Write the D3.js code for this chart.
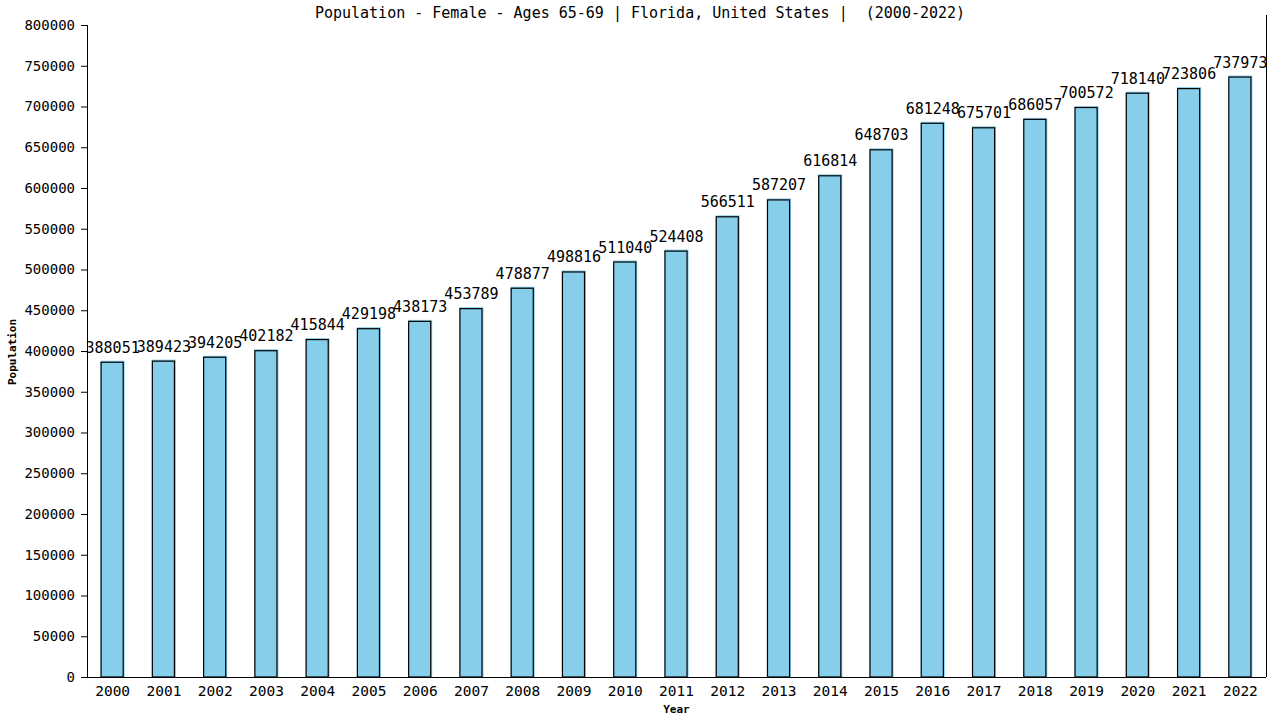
<!DOCTYPE html>
<html><head><meta charset="utf-8">
<script src="https://cdn.jsdelivr.net/npm/d3@7"></script>
<style>
body{margin:0;background:#fff;}
svg{display:block;}
text{font-family:"DejaVu Sans Mono",monospace;fill:#000;}
</style></head>
<body>
<svg id="chart" width="1280" height="720"></svg>
<script>
const years = ["2000","2001","2002","2003","2004","2005","2006","2007","2008","2009","2010","2011","2012","2013","2014","2015","2016","2017","2018","2019","2020","2021","2022"];
const values = [388051,389423,394205,402182,415844,429198,438173,453789,478877,498816,511040,524408,566511,587207,616814,648703,681248,675701,686057,700572,718140,723806,737973];
const yTicks = [0,50000,100000,150000,200000,250000,300000,350000,400000,450000,500000,550000,600000,650000,700000,750000,800000];
const titleText = "Population - Female - Ages 65-69 | Florida, United States |  (2000-2022)";
const xTitle = "Year";
const yTitle = "Population";

(function(){
const svg = d3.select("#chart");
const pL = 87, pR = 1266, pT = 25, pB = 677;

const x = d3.scaleBand().domain(years).range([pL, pR]).paddingInner(0.53).paddingOuter(0.265);
const y = d3.scaleLinear().domain([0, 800000]).range([pB, pT]);

const g = svg.append("g");
g.selectAll("rect.fill").data(values).enter().append("rect")
  .attr("class","fill")
  .attr("x", (d,i) => x(years[i]))
  .attr("y", d => y(d))
  .attr("width", x.bandwidth())
  .attr("height", d => pB - y(d))
  .attr("fill", "#87CEEB");
g.selectAll("rect.border").data(values).enter().append("rect")
  .attr("class","border")
  .attr("x", (d,i) => x(years[i]) + 0.5)
  .attr("y", d => y(d) + 1.5)
  .attr("width", x.bandwidth() - 2)
  .attr("height", d => pB - y(d) - 1.5)
  .attr("fill", "none")
  .attr("stroke", "#000")
  .attr("stroke-width", 1.2);

g.selectAll("text.val").data(values).enter().append("text")
  .attr("class","val")
  .attr("x", (d,i) => x(years[i]) + x.bandwidth()/2)
  .attr("y", d => y(d) - 8)
  .attr("text-anchor", "middle")
  .style("font-size", "15px")
  .text(d => d);

const yAxis = d3.axisLeft(y).tickValues(yTicks).tickSize(6).tickPadding(6).tickFormat(d => d);
const ya = svg.append("g").attr("transform", `translate(${pL},0)`).call(yAxis);
ya.select(".domain").attr("stroke", "#000").attr("d", `M0.5,${pT}V${pB}`);
ya.selectAll("text").style("font-size", "14px").style("font-family", '"DejaVu Sans Mono",monospace');
ya.selectAll("line").attr("stroke", "#000");

const xAxis = d3.axisBottom(x).tickSize(0).tickPadding(9);
const xa = svg.append("g").attr("transform", `translate(0,${pB})`).call(xAxis);
xa.select(".domain").attr("stroke", "#000").attr("d", `M${pL},0.5H${pR}`);
xa.selectAll("text").style("font-size", "14.5px").style("font-family", '"DejaVu Sans Mono",monospace');

svg.append("line").attr("x1", pR+0.5).attr("x2", pR+0.5).attr("y1", 15).attr("y2", pB)
  .attr("stroke", "#000");

svg.append("text").attr("x", 640).attr("y", 18).attr("text-anchor", "middle")
  .style("font-size", "15px").style("white-space", "pre").text(titleText);
svg.append("text").attr("x", (pL+pR)/2).attr("y", 713).attr("text-anchor", "middle")
  .style("font-size", "11px").style("font-weight", "bold").text(xTitle);
svg.append("text").attr("transform", "translate(16,352) rotate(-90)").attr("text-anchor", "middle")
  .style("font-size", "11px").style("font-weight", "bold").text(yTitle);
})();
</script>
</body></html>
